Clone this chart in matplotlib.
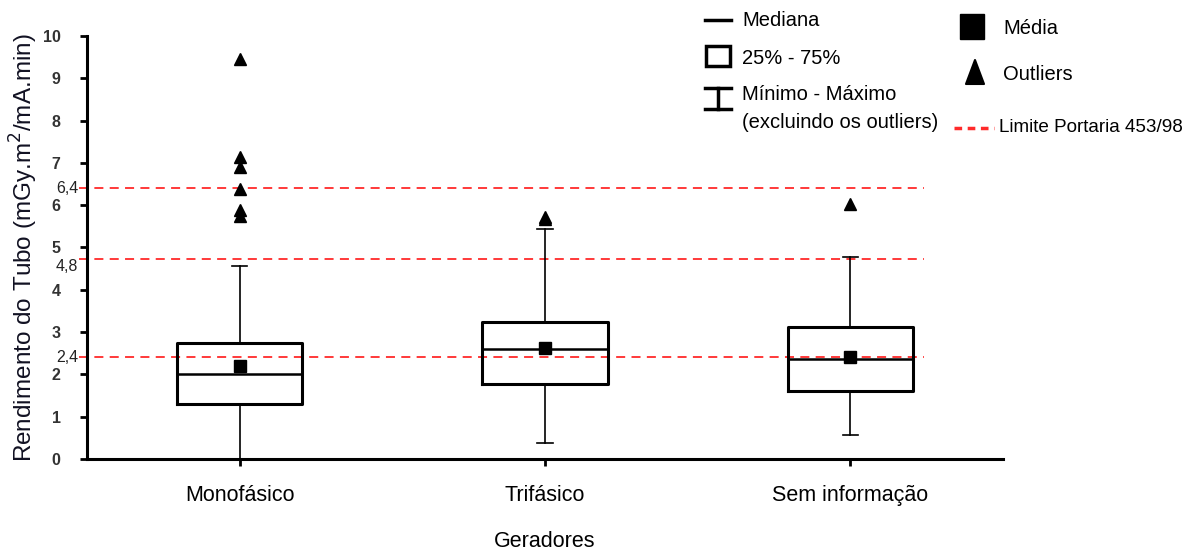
import matplotlib
matplotlib.use("Agg")
import matplotlib.pyplot as plt
from matplotlib.lines import Line2D
from matplotlib.patches import Rectangle, Polygon

plt.rcParams['font.family'] = ['Liberation Sans', 'DejaVu Sans']

categories = ["Monofásico", "Trifásico", "Sem informação"]
q1 = [1.30, 1.78, 1.60]
medians = [2.0, 2.60, 2.37]
q3 = [2.75, 3.25, 3.11]
whis_low = [0.0, 0.38, 0.56]
whis_high = [4.57, 5.43, 4.78]
means = [2.2, 2.63, 2.40]
outliers = [[9.46, 7.15, 6.90, 6.38, 5.89, 5.75], [5.72, 5.67], [6.02]]

limit_values = [2.4, 4.72, 6.4]
limit_labels = ["2,4", "4,8", "6,4"]
limit_label_shift = [0, -5, 0]   # points; "4,8" sits a bit under its line

fig = plt.figure(figsize=(11.96, 5.53), dpi=100)
ax = fig.add_axes([0.0727, 0.170, 0.766, 0.765])

stats = []
for i, name in enumerate(categories):
    stats.append(dict(label=name, q1=q1[i], med=medians[i], q3=q3[i],
                      whislo=whis_low[i], whishi=whis_high[i],
                      mean=means[i], fliers=outliers[i]))

ax.bxp(stats, positions=[1, 2, 3], widths=0.41, showmeans=True,
       boxprops=dict(color='black', linewidth=2.2),
       medianprops=dict(color='black', linewidth=1.8),
       whiskerprops=dict(color='black', linewidth=1.2),
       capprops=dict(color='black', linewidth=1.2),
       capwidths=0.05,
       meanprops=dict(marker='s', markerfacecolor='black', markeredgecolor='black', markersize=8.5),
       flierprops=dict(marker='^', markerfacecolor='black', markeredgecolor='black', markersize=8.5))

for v, lab, sh in zip(limit_values, limit_labels, limit_label_shift):
    ax.plot([0.475, 3.24], [v, v], color='#ff2a2a', linestyle=(0, (5, 3.5)), linewidth=1.3,
            clip_on=False, zorder=1)
    ax.annotate(lab, xy=(0.472, v), xytext=(0, sh), textcoords='offset points',
                ha='right', va='center', fontsize=11.5, color='#222222',
                annotation_clip=False)

ax.set_xlim(0.5, 3.5)
ax.set_ylim(0, 10)
ax.set_yticks(range(0, 11))
ax.tick_params(axis='y', length=5, width=2, labelsize=11.5, pad=14, labelcolor='#333333')
ax.tick_params(axis='x', length=5, width=2, labelsize=15.5, pad=14)
for lbl in ax.get_yticklabels():
    lbl.set_fontweight('bold')
ax.spines['top'].set_visible(False)
ax.spines['right'].set_visible(False)
ax.spines['left'].set_linewidth(2.2)
ax.spines['bottom'].set_linewidth(2.2)
ax.set_xlabel("Geradores", fontsize=15.5, labelpad=18)
ax.set_ylabel("Rendimento do Tubo (mGy.m$^2$/mA.min)", fontsize=17.5, labelpad=2,
              color='#111122')

# legend drawn in pixel coordinates
lg = fig.add_axes([0, 0, 1, 1])
lg.set_xlim(0, 1196)
lg.set_ylim(553, 0)
lg.axis('off')
lg.add_line(Line2D([705, 731], [20, 20], color='black', linewidth=2.5))
lg.add_patch(Rectangle((706, 46), 24, 20, fill=False, edgecolor='black', linewidth=2.5))
lg.add_line(Line2D([705, 731], [88, 88], color='black', linewidth=2.5))
lg.add_line(Line2D([705, 731], [109, 109], color='black', linewidth=2.5))
lg.add_line(Line2D([718, 718], [88, 109], color='black', linewidth=2.5))
lg.add_patch(Rectangle((960, 14), 24, 25, facecolor='black', edgecolor='black'))
lg.add_patch(Polygon([[966, 84], [984, 84], [975, 60]], closed=True,
                     facecolor='black', edgecolor='black', linewidth=1.5, joinstyle='round'))
lg.add_line(Line2D([954, 994], [128, 128], color='#ff2a2a', linewidth=2.5, linestyle=(0, (2.2, 1.6))))
fs = 14.5
lg.text(742, 20, "Mediana", fontsize=fs, va='center')
lg.text(742, 58, "25% - 75%", fontsize=fs, va='center')
lg.text(742, 94, "Mínimo - Máximo", fontsize=fs, va='center')
lg.text(742, 122, "(excluindo os outliers)", fontsize=fs, va='center')
lg.text(1003, 28, "Média", fontsize=fs, va='center')
lg.text(1003, 75, "Outliers", fontsize=fs, va='center')
lg.text(999, 128, "Limite Portaria 453/98", fontsize=13.6, va='center')

fig.savefig("out.png", dpi=100)
